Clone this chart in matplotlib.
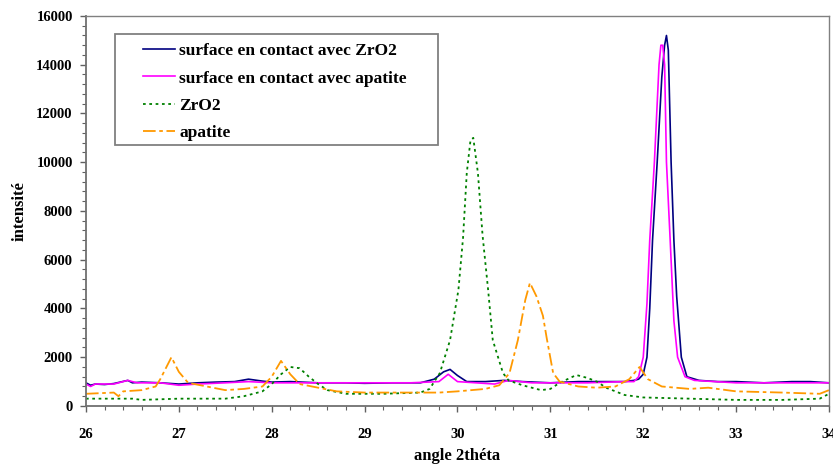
import matplotlib
matplotlib.use('Agg')
import matplotlib.pyplot as plt
from matplotlib.patches import Rectangle
from matplotlib.ticker import MultipleLocator

# surface en contact avec ZrO2
x_zr_surf = [26.0, 26.05, 26.1, 26.2, 26.3, 26.45, 26.5, 26.6, 26.8, 27.0, 27.2, 27.4, 27.6, 27.75, 27.9,
             28.0, 28.2, 28.5, 28.8, 29.0, 29.3, 29.6, 29.75, 29.85, 29.92, 30.0, 30.1, 30.3, 30.5, 30.7,
             31.0, 31.3, 31.6, 31.8, 31.9, 31.95, 32.0, 32.04, 32.07, 32.1, 32.15, 32.2, 32.23, 32.25,
             32.27, 32.3, 32.33, 32.36, 32.38, 32.41, 32.47, 32.6, 32.8, 33.0, 33.3, 33.6, 33.8, 34.0]
y_zr_surf = [950, 850, 900, 880, 920, 1050, 950, 980, 950, 900, 950, 980, 1000, 1100, 1020,
             980, 1000, 950, 950, 930, 950, 950, 1100, 1400, 1500, 1250, 1000, 1000, 1050, 1000,
             950, 1000, 1000, 1000, 1050, 1100, 1300, 2000, 4000, 6800, 10000, 13500, 14800, 15200,
             14600, 10000, 6800, 4500, 3500, 2000, 1200, 1050, 1000, 1000, 950, 1000, 1000, 950]

# surface en contact avec apatite
x_ap_surf = [26.0, 26.05, 26.1, 26.3, 26.45, 26.55, 26.8, 27.0, 27.2, 27.5, 27.75, 28.0, 28.3, 28.6,
             29.0, 29.5, 29.8, 29.9, 30.0, 30.2, 30.4, 30.55, 30.8, 31.0, 31.4, 31.8, 31.9, 31.95,
             32.0, 32.04, 32.07, 32.12, 32.17, 32.19, 32.21, 32.23, 32.25, 32.29, 32.33, 32.37,
             32.45, 32.55, 33.0, 33.5, 34.0]
y_ap_surf = [900, 800, 900, 900, 1050, 950, 950, 850, 900, 950, 1000, 950, 950, 950,
             950, 950, 1000, 1300, 1000, 950, 900, 1050, 950, 950, 950, 1000, 1000, 1200,
             2000, 4200, 6800, 10000, 14000, 14800, 14800, 14000, 10000, 6800, 3500, 2000,
             1200, 1050, 950, 950, 950]

# ZrO2
x_zro2 = [26.0, 26.5, 26.6, 27.0, 27.5, 27.7, 27.9, 28.0, 28.1, 28.2, 28.3, 28.4, 28.5, 28.6, 28.8,
          29.2, 29.6, 29.7, 29.81, 29.92, 30.01, 30.06, 30.1, 30.14, 30.17, 30.22, 30.27, 30.33, 30.38,
          30.49, 30.55, 30.7, 30.9, 31.0, 31.1, 31.28, 31.4, 31.5, 31.6, 31.8, 32.0, 32.5, 33.0,
          33.5, 33.9, 34.0]
y_zro2 = [300, 300, 250, 300, 300, 400, 600, 900, 1300, 1600, 1550, 1200, 900, 650, 500,
          500, 550, 700, 1350, 2700, 4760, 6900, 9560, 10900, 11000, 9560, 7000, 4760, 2700,
          1350, 1050, 850, 650, 700, 950, 1270, 1150, 1000, 750, 450, 350, 300, 250,
          250, 300, 500]

# apatite
x_apatite = [26.0, 26.3, 26.35, 26.4, 26.6, 26.75, 26.8, 26.92, 27.0, 27.1, 27.3, 27.5, 27.7, 27.9,
             28.0, 28.1, 28.2, 28.3, 28.5, 28.7, 29.0, 29.5, 29.8, 30.0, 30.3, 30.45, 30.56, 30.65,
             30.73, 30.78, 30.85, 30.92, 30.96, 31.03, 31.1, 31.3, 31.5, 31.7, 31.85, 31.96, 32.05,
             32.2, 32.5, 32.7, 33.0, 33.5, 33.9, 34.0]
y_apatite = [500, 550, 400, 600, 650, 800, 1100, 2000, 1400, 950, 800, 650, 700, 800,
             1200, 1850, 1300, 900, 750, 600, 550, 550, 550, 600, 700, 850, 1350, 2700,
             4350, 5050, 4500, 3700, 2800, 1350, 1000, 800, 750, 800, 1100, 1600, 1100,
             800, 700, 750, 600, 550, 500, 650]

plt.rcParams['font.family'] = ['Liberation Serif', 'DejaVu Serif']
plt.rcParams['font.weight'] = 'bold'

fig = plt.figure(figsize=(8.33, 4.66), dpi=100)
ax = fig.add_axes([0.1032, 0.1288, 0.8920, 0.8369])

ax.plot(x_zr_surf, y_zr_surf, color='#000080', lw=1.2, label='surface en contact avec ZrO2')
ax.plot(x_ap_surf, y_ap_surf, color='#FF00FF', lw=1.2, label='surface en contact avec apatite')
ax.plot(x_zro2, y_zro2, color='#008000', lw=1.3, linestyle=(0, (1.5, 2)), label='ZrO2')
ax.plot(x_apatite, y_apatite, color='#FF9900', lw=1.3, linestyle=(0, (7, 2, 2, 2)), label='apatite')

ax.set_xlim(26, 34)
ax.set_ylim(0, 16000)
ax.xaxis.set_major_locator(MultipleLocator(1))
ax.xaxis.set_minor_locator(MultipleLocator(0.2))
ax.yaxis.set_major_locator(MultipleLocator(2000))
ax.yaxis.set_minor_locator(MultipleLocator(400))
ax.tick_params(which='major', direction='out', length=4.5, width=1, color='#606060', labelsize=10.5)
ax.tick_params(which='minor', direction='out', length=3, width=0.8, color='#606060')
ax.tick_params(axis='y', which='major', pad=5)
ax.tick_params(axis='x', which='major', pad=11)

for s in ['top', 'right']:
    ax.spines[s].set_color('#808080')
    ax.spines[s].set_linewidth(1)
for s in ['left', 'bottom']:
    ax.spines[s].set_color('#707070')
    ax.spines[s].set_linewidth(1.3)

ax.set_xlabel('angle 2théta', fontsize=12, fontweight='bold')
ax.xaxis.set_label_coords(0.499, -0.108)
ax.set_ylabel('intensité', fontsize=12, fontweight='bold')
ax.yaxis.set_label_coords(-0.078, 0.5)

# legend box (Excel style: wide side margins)
ax.add_patch(Rectangle((0.039, 0.669), 0.435, 0.285, transform=ax.transAxes, facecolor='white',
                       edgecolor='#808080', linewidth=1.3, zorder=4))
leg = ax.legend(loc='upper left', bbox_to_anchor=(0.0767, 0.93), fontsize=12.5, frameon=False,
                handlelength=1.85, handletextpad=0.25, borderpad=0, labelspacing=0.63,
                borderaxespad=0)
leg.set_zorder(5)
for t in leg.get_texts():
    t.set_fontweight('bold')

fig.savefig('out.png', dpi=100)
